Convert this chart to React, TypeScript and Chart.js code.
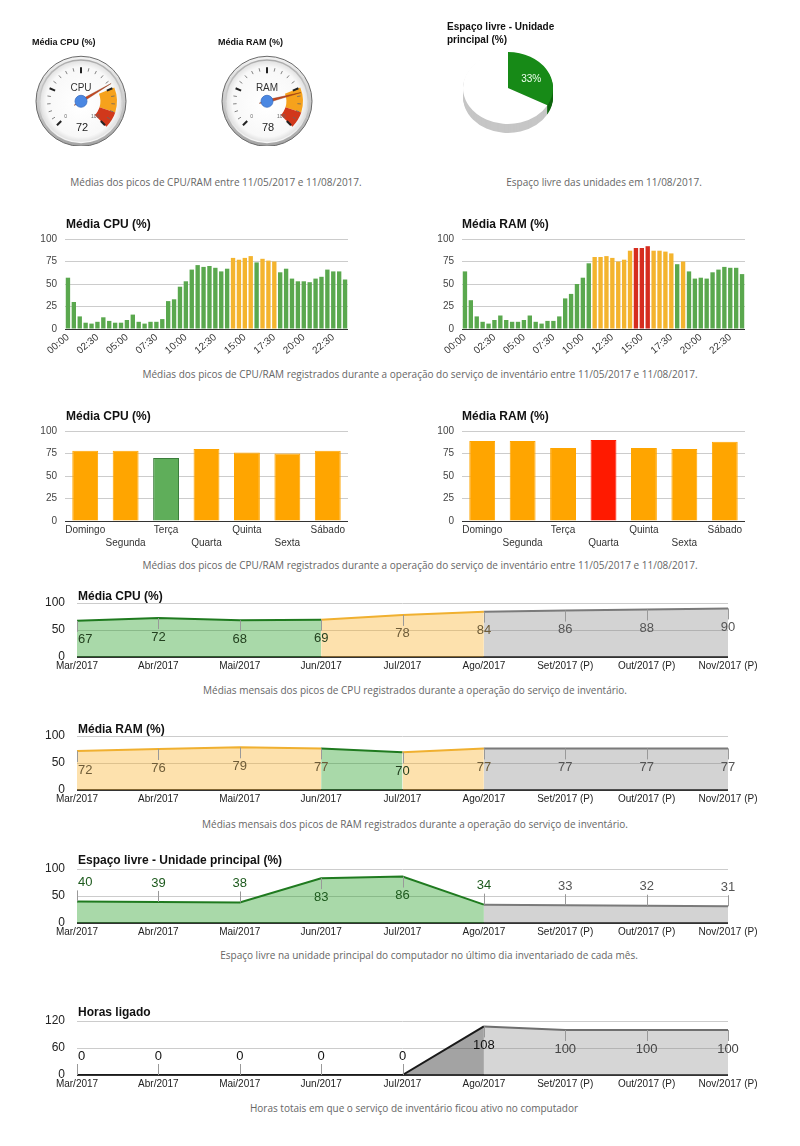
import React, { useEffect, useRef } from 'react';
import { Chart, registerables } from 'chart.js';

Chart.register(...registerables);

const FONT = '"Liberation Sans", Arial, Helvetica, sans-serif';
const CAPTION_FONT = '"Open Sans", "Segoe UI", sans-serif';
Chart.defaults.font.family = FONT;

// ---------------- data ----------------
const gaugeLabels = ['CPU', 'RAM'];
const gaugeValues = [72, 78];
const gaugeBandEdges = [0, 75, 90, 100];

const diskSliceLabels = ['Livre', 'Ocupado'];
const diskSlices = [33, 67];

const halfHourLabels = [
  '00:00', '00:30', '01:00', '01:30', '02:00', '02:30', '03:00', '03:30', '04:00', '04:30',
  '05:00', '05:30', '06:00', '06:30', '07:00', '07:30', '08:00', '08:30', '09:00', '09:30',
  '10:00', '10:30', '11:00', '11:30', '12:00', '12:30', '13:00', '13:30', '14:00', '14:30',
  '15:00', '15:30', '16:00', '16:30', '17:00', '17:30', '18:00', '18:30', '19:00', '19:30',
  '20:00', '20:30', '21:00', '21:30', '22:00', '22:30', '23:00', '23:30',
];
const cpuHalfHour = [
  57, 30, 14, 7, 6, 8, 13, 9, 7, 7,
  10, 16, 8, 6, 8, 8, 11, 31, 33, 47,
  53, 66, 71, 69, 70, 68, 64, 67, 79, 77,
  79, 81, 74, 78, 76, 75, 63, 67, 56, 53,
  53, 52, 56, 58, 66, 64, 64, 55,
];
const ramHalfHour = [
  64, 32, 14, 8, 6, 10, 15, 10, 8, 8,
  10, 15, 8, 6, 9, 9, 14, 34, 39, 50,
  57, 73, 80, 80, 81, 79, 75, 77, 87, 90,
  90, 92, 87, 87, 86, 84, 72, 75, 64, 56,
  57, 56, 63, 66, 69, 68, 68, 61,
];

const weekdays = ['Domingo', 'Segunda', 'Terça', 'Quarta', 'Quinta', 'Sexta', 'Sábado'];
const cpuWeekday = [78, 78, 70, 80, 76, 75, 78];
const ramWeekday = [89, 89, 81, 90, 81, 80, 88];

const months = [
  'Mar/2017', 'Abr/2017', 'Mai/2017', 'Jun/2017', 'Jul/2017', 'Ago/2017',
  'Set/2017 (P)', 'Out/2017 (P)', 'Nov/2017 (P)',
];
const lastRealMonth = 5;
const cpuMonthly = [67, 72, 68, 69, 78, 84, 86, 88, 90];
const ramMonthly = [72, 76, 79, 77, 70, 77, 77, 77, 77];
const diskMonthly = [40, 39, 38, 83, 86, 34, 33, 32, 31];
const hoursMonthly = [0, 0, 0, 0, 0, 108, 100, 100, 100];

const warnLevel = 75;
const critLevel = 90;

// ---------------- styles ----------------
type SegStyle = { line: string; fill: string; text: string };
const S_GREEN: SegStyle = { line: '#1f7a1f', fill: 'rgba(40,160,40,0.40)', text: '#23401f' };
const S_DISK: SegStyle = { line: '#1f7a1f', fill: 'rgba(40,160,40,0.40)', text: '#1d5a1d' };
const S_ORANGE: SegStyle = { line: '#f0b030', fill: 'rgba(250,180,50,0.40)', text: '#6e5c38' };
const S_GRAY: SegStyle = { line: '#7a7a7a', fill: 'rgba(130,130,130,0.35)', text: '#555555' };
const S_BLACK: SegStyle = { line: '#1a1a1a', fill: 'rgba(50,50,50,0.45)', text: '#111111' };
const S_HGRAY: SegStyle = { line: '#6f6f6f', fill: 'rgba(130,130,130,0.33)', text: '#444444' };

const halfColor = (v: number) => (v >= critLevel ? '#d62d1f' : v >= warnLevel ? '#f4b42e' : '#5aa84e');
const weekColor = (v: number) => (v >= critLevel ? '#ff1a00' : v >= warnLevel ? '#ffa500' : '#5fae5a');
const weekBorder = (v: number) => (v >= critLevel ? '#ff1a00' : v >= warnLevel ? '#ffa500' : '#3b7d3b');

// ---------------- helpers ----------------
function ChartBox({ x, y, w, h, config }: { x: number; y: number; w: number; h: number; config: () => any }) {
  const ref = useRef<HTMLCanvasElement | null>(null);
  useEffect(() => {
    if (!ref.current) return;
    const chart = new Chart(ref.current, config());
    return () => chart.destroy();
  }, []);
  return (
    <canvas
      ref={ref}
      width={w}
      height={h}
      style={{ position: 'absolute', left: x, top: y, width: w, height: h }}
    />
  );
}

function Txt({
  x, y, size, bold, color, font, center, children,
}: {
  x: number; y: number; size: number; bold?: boolean; color: string; font: string; center?: boolean; children: React.ReactNode;
}) {
  const lh = Math.round(size * 1.25);
  const style: React.CSSProperties = {
    position: 'absolute',
    left: x,
    top: y - lh / 2,
    fontSize: size,
    lineHeight: `${lh}px`,
    fontWeight: bold ? 'bold' : 'normal',
    color,
    fontFamily: font,
    whiteSpace: 'nowrap',
  };
  if (center) style.transform = 'translateX(-50%)';
  return <div style={style}>{children}</div>;
}

// ---------------- gauge ----------------
function gaugeConfig(idx: number) {
  const value = gaugeValues[idx];
  const label = gaugeLabels[idx];
  const max = gaugeBandEdges[gaugeBandEdges.length - 1];
  const bandData = gaugeBandEdges.slice(1).map((e, j) => e - gaugeBandEdges[j]);
  const plugin = {
    id: 'gaugeFace',
    beforeDatasetsDraw(chart: any) {
      const el = chart.getDatasetMeta(0).data[0];
      const cx = el.x, cy = el.y;
      const ctx = chart.ctx as CanvasRenderingContext2D;
      ctx.save();
      let g = ctx.createLinearGradient(cx, cy - 45, cx, cy + 45);
      g.addColorStop(0, '#f2f2f2');
      g.addColorStop(1, '#a4a4a4');
      ctx.beginPath();
      ctx.arc(cx, cy, 45, 0, Math.PI * 2);
      ctx.fillStyle = g;
      ctx.fill();
      ctx.strokeStyle = '#6a6a6a';
      ctx.lineWidth = 1;
      ctx.stroke();
      g = ctx.createLinearGradient(cx, cy - 42, cx, cy + 42);
      g.addColorStop(0, '#aaaaaa');
      g.addColorStop(1, '#f7f7f7');
      ctx.beginPath();
      ctx.arc(cx, cy, 42, 0, Math.PI * 2);
      ctx.fillStyle = g;
      ctx.fill();
      const rg = ctx.createRadialGradient(cx, cy + 4, 4, cx, cy, 40.5);
      rg.addColorStop(0, '#ffffff');
      rg.addColorStop(0.85, '#f8f8f8');
      rg.addColorStop(1, '#e2e2e2');
      ctx.beginPath();
      ctx.arc(cx, cy, 40.5, 0, Math.PI * 2);
      ctx.fillStyle = rg;
      ctx.fill();
      ctx.restore();
    },
    afterDatasetsDraw(chart: any) {
      const arcs = chart.getDatasetMeta(0).data;
      const start = arcs[0].startAngle;
      const end = arcs[arcs.length - 1].endAngle;
      const cx = arcs[0].x, cy = arcs[0].y;
      const ctx = chart.ctx as CanvasRenderingContext2D;
      const ang = (v: number) => start + ((end - start) * v) / max;
      ctx.save();
      for (let i = 0; i <= 20; i++) {
        const a = ang((max * i) / 20);
        const major = i % 5 === 0;
        const r0 = major ? 28 : 30.5;
        const r1 = 34;
        ctx.beginPath();
        ctx.moveTo(cx + r0 * Math.cos(a), cy + r0 * Math.sin(a));
        ctx.lineTo(cx + r1 * Math.cos(a), cy + r1 * Math.sin(a));
        ctx.strokeStyle = major ? '#222' : '#666';
        ctx.lineWidth = major ? 2 : 0.8;
        ctx.stroke();
      }
      ctx.fillStyle = '#666';
      ctx.font = `5px ${FONT}`;
      ctx.textAlign = 'center';
      ctx.textBaseline = 'middle';
      const a0 = ang(0), a1 = ang(max);
      ctx.fillText('0', cx + 23 * Math.cos(a0) + 1, cy + 23 * Math.sin(a0) - 1);
      ctx.fillText(String(max), cx + 23 * Math.cos(a1) - 2, cy + 23 * Math.sin(a1) - 1);
      ctx.fillStyle = '#333';
      ctx.font = `10px ${FONT}`;
      ctx.fillText(label, cx, cy - 13);
      ctx.font = `11px ${FONT}`;
      ctx.fillStyle = '#222';
      ctx.fillText(String(value), cx + 1, cy + 27);
      const a = ang(value);
      const px = -Math.sin(a), py = Math.cos(a);
      const tipR = 35, tailR = 8, half = 1.5;
      ctx.beginPath();
      ctx.moveTo(cx + tipR * Math.cos(a), cy + tipR * Math.sin(a));
      ctx.lineTo(cx + half * px, cy + half * py);
      ctx.lineTo(cx - tailR * Math.cos(a), cy - tailR * Math.sin(a));
      ctx.lineTo(cx - half * px, cy - half * py);
      ctx.closePath();
      ctx.fillStyle = '#c8471f';
      ctx.fill();
      ctx.strokeStyle = 'rgba(130,50,20,0.7)';
      ctx.lineWidth = 0.6;
      ctx.stroke();
      ctx.beginPath();
      ctx.arc(cx, cy, 6, 0, Math.PI * 2);
      ctx.fillStyle = '#4a87e2';
      ctx.fill();
      ctx.strokeStyle = '#3b6fc2';
      ctx.lineWidth = 0.8;
      ctx.stroke();
      ctx.restore();
    },
  };
  return {
    type: 'doughnut',
    data: {
      labels: ['ok', 'alerta', 'crítico'],
      datasets: [{
        data: bandData,
        backgroundColor: ['rgba(0,0,0,0)', '#f6a21c', '#d1381b'],
        borderWidth: 0,
      }],
    },
    options: {
      responsive: false,
      animation: false,
      events: [],
      rotation: -135,
      circumference: 270,
      radius: 36,
      cutout: 27,
      layout: { padding: 0 },
      plugins: { legend: { display: false }, tooltip: { enabled: false } },
    },
    plugins: [plugin],
  };
}

// ---------------- 3D pie ----------------
function pieConfig() {
  const k = 0.8;
  const depth = 9;
  const sideColors = ['#0e650e', '#c6c6c6'];
  const plugin = {
    id: 'pie3d',
    beforeDatasetsDraw(chart: any) {
      const arcs = chart.getDatasetMeta(0).data;
      const ctx = chart.ctx as CanvasRenderingContext2D;
      const cx = arcs[0].x, cy = arcs[0].y, R = arcs[0].outerRadius;
      for (let d = depth; d >= 1; d--) {
        arcs.forEach((a: any, i: number) => {
          ctx.save();
          ctx.translate(cx, cy + d);
          ctx.scale(1, k);
          ctx.beginPath();
          ctx.moveTo(0, 0);
          ctx.arc(0, 0, R, a.startAngle, a.endAngle);
          ctx.closePath();
          ctx.fillStyle = sideColors[i];
          ctx.fill();
          ctx.restore();
        });
      }
      ctx.save();
      ctx.translate(cx, cy);
      ctx.scale(1, k);
      ctx.translate(-cx, -cy);
    },
    afterDatasetsDraw(chart: any) {
      const ctx = chart.ctx as CanvasRenderingContext2D;
      ctx.restore();
      const a = chart.getDatasetMeta(0).data[0];
      const mid = (a.startAngle + a.endAngle) / 2;
      const r = a.outerRadius * 0.6;
      ctx.save();
      ctx.fillStyle = '#f0fff0';
      ctx.font = `10px ${FONT}`;
      ctx.textAlign = 'center';
      ctx.textBaseline = 'middle';
      ctx.fillText(`${diskSlices[0]}%`, a.x + r * Math.cos(mid), a.y + r * k * Math.sin(mid) + 2);
      ctx.restore();
    },
  };
  return {
    type: 'pie',
    data: {
      labels: diskSliceLabels,
      datasets: [{ data: diskSlices, backgroundColor: ['#178a17', '#ffffff'], borderWidth: 0 }],
    },
    options: {
      responsive: false,
      animation: false,
      events: [],
      radius: 45,
      layout: { padding: 0 },
      plugins: { legend: { display: false }, tooltip: { enabled: false } },
    },
    plugins: [plugin],
  };
}

// ---------------- bars ----------------
function barConfig(
  labels: string[],
  values: number[],
  p: {
    colorFn: (v: number) => string;
    borderFn?: (v: number) => string;
    barPct: number;
    rotation: number;
    tickCb: (label: string, i: number) => any;
    xH: number;
    xPad: number;
  },
) {
  return {
    type: 'bar',
    data: {
      labels,
      datasets: [{
        data: values,
        backgroundColor: values.map(p.colorFn),
        borderColor: values.map(p.borderFn ?? p.colorFn),
        borderWidth: p.borderFn ? 1 : 0,
        barPercentage: p.barPct,
        categoryPercentage: 1,
      }],
    },
    options: {
      responsive: false,
      animation: false,
      events: [],
      layout: { padding: { top: 10, right: 12, left: 0, bottom: 0 } },
      plugins: { legend: { display: false }, tooltip: { enabled: false } },
      scales: {
        x: {
          grid: { display: false, drawTicks: false },
          border: { display: false },
          ticks: {
            autoSkip: false,
            minRotation: p.rotation,
            maxRotation: p.rotation,
            padding: p.xPad,
            color: '#333',
            font: { size: 10, lineHeight: 1.3 },
            callback: (_v: any, i: number) => p.tickCb(labels[i], i),
          },
          afterFit: (s: any) => { s.height = p.xH; },
        },
        y: {
          min: 0,
          max: 100,
          ticks: { stepSize: 25, padding: 8, color: '#444', font: { size: 10 } },
          grid: {
            drawTicks: false,
            color: (c: any) => (c.tick && c.tick.value === 0 ? '#333333' : '#cccccc'),
          },
          border: { display: false },
          afterFit: (s: any) => { s.width = 40; s.paddingTop = 0; s.paddingBottom = 0; },
        },
      },
    },
  };
}

// ---------------- monthly areas ----------------
function lineConfig(values: number[], max: number, step: number, styleAt: (i: number) => SegStyle) {
  const annot = {
    id: 'annot',
    afterDatasetsDraw(chart: any) {
      const pts = chart.getDatasetMeta(0).data;
      const ctx = chart.ctx as CanvasRenderingContext2D;
      const area = chart.chartArea;
      ctx.save();
      ctx.font = `13px ${FONT}`;
      ctx.textAlign = 'center';
      ctx.textBaseline = 'middle';
      pts.forEach((pt: any, i: number) => {
        const v = values[i];
        const dir = v < max / 2 ? -1 : 1;
        const sx = Math.round(pt.x) + 0.5;
        ctx.strokeStyle = '#999';
        ctx.lineWidth = 1;
        ctx.beginPath();
        ctx.moveTo(sx, pt.y);
        ctx.lineTo(sx, pt.y + dir * 11);
        ctx.stroke();
        const txt = String(v);
        const tw = ctx.measureText(txt).width;
        const tx = Math.max(pt.x, area.left + tw / 2 + 1);
        ctx.fillStyle = styleAt(Math.max(i, 1)).text;
        ctx.fillText(txt, tx, pt.y + dir * 19);
      });
      ctx.restore();
    },
  };
  return {
    type: 'line',
    data: {
      labels: months,
      datasets: [{
        data: values,
        fill: 'origin',
        borderWidth: 2,
        pointRadius: 0,
        tension: 0,
        borderColor: styleAt(1).line,
        backgroundColor: styleAt(1).fill,
        segment: {
          borderColor: (c: any) => styleAt(c.p1DataIndex).line,
          backgroundColor: (c: any) => styleAt(c.p1DataIndex).fill,
        },
      }],
    },
    options: {
      responsive: false,
      animation: false,
      events: [],
      layout: { padding: { top: 10, right: 62, left: 0, bottom: 0 } },
      plugins: { legend: { display: false }, tooltip: { enabled: false } },
      scales: {
        x: {
          grid: { display: false, drawTicks: false },
          border: { display: false },
          ticks: { autoSkip: false, maxRotation: 0, padding: 3, color: '#222', font: { size: 10 } },
          afterFit: (s: any) => { s.height = 24; },
        },
        y: {
          min: 0,
          max,
          ticks: {
            stepSize: step,
            padding: 12,
            color: '#222',
            font: { size: 12 },
            callback: (v: any) => (Number(v) % (step * 2) === 0 ? String(v) : ''),
          },
          grid: {
            drawTicks: false,
            color: (c: any) => (c.tick && c.tick.value === 0 ? '#333333' : '#cccccc'),
            lineWidth: (c: any) => (c.tick && c.tick.value === 0 ? 2 : 1),
          },
          border: { display: false },
          afterFit: (s: any) => { s.width = 57; s.paddingTop = 0; s.paddingBottom = 0; },
        },
      },
    },
    plugins: [annot],
  };
}

const usageStyle = (values: number[]) => (i: number): SegStyle =>
  i > lastRealMonth ? S_GRAY : values[i] >= warnLevel ? S_ORANGE : S_GREEN;
const diskStyle = (i: number): SegStyle => (i > lastRealMonth ? S_GRAY : S_DISK);
const hoursStyle = (i: number): SegStyle => (i > lastRealMonth ? S_HGRAY : S_BLACK);

// ---------------- app ----------------
export default function App() {
  const title = (x: number, y: number, text: React.ReactNode, size = 12) => (
    <Txt x={x} y={y} size={size} bold color="#111" font={FONT}>{text}</Txt>
  );
  const caption = (cx: number, y: number, text: string) => (
    <Txt x={cx} y={y} size={10} color="#666" font={CAPTION_FONT} center>{text}</Txt>
  );
  const halfTick = (l: string, i: number) => (i % 5 === 0 ? l : '');
  const weekTick = (l: string, i: number) => (i % 2 === 1 ? ['', l] : l);

  return (
    <div style={{ position: 'absolute', left: 0, top: 0, width: 800, height: 1146, background: '#fff', overflow: 'hidden' }}>
      {/* gauges */}
      <ChartBox x={31} y={46} w={100} h={100} config={() => gaugeConfig(0)} />
      <ChartBox x={217} y={46} w={100} h={100} config={() => gaugeConfig(1)} />
      {title(32, 42, 'Média CPU (%)', 9)}
      {title(218, 42, 'Média RAM (%)', 9)}
      {/* pie */}
      <ChartBox x={458} y={38} w={100} h={100} config={pieConfig} />
      <div style={{ position: 'absolute', left: 447, top: 20, fontFamily: FONT, fontSize: 10, lineHeight: '13px', fontWeight: 'bold', color: '#111' }}>
        Espaço livre - Unidade<br />principal (%)
      </div>
      {caption(216, 182, 'Médias dos picos de CPU/RAM entre 11/05/2017 e 11/08/2017.')}
      {caption(604, 182, 'Espaço livre das unidades em 11/08/2017.')}

      {/* half-hour bars */}
      <ChartBox x={25} y={229} w={335} h={135} config={() => barConfig(halfHourLabels, cpuHalfHour, { colorFn: halfColor, barPct: 0.74, rotation: 40, tickCb: halfTick, xH: 35, xPad: 2 })} />
      <ChartBox x={422} y={229} w={335} h={135} config={() => barConfig(halfHourLabels, ramHalfHour, { colorFn: halfColor, barPct: 0.74, rotation: 40, tickCb: halfTick, xH: 35, xPad: 2 })} />
      {title(66, 224, 'Média CPU (%)')}
      {title(462, 224, 'Média RAM (%)')}
      {caption(420, 374, 'Médias dos picos de CPU/RAM registrados durante a operação do serviço de inventário entre 11/05/2017 e 11/08/2017.')}

      {/* weekday bars */}
      <ChartBox x={25} y={421} w={335} h={135} config={() => barConfig(weekdays, cpuWeekday, { colorFn: weekColor, borderFn: weekBorder, barPct: 0.64, rotation: 0, tickCb: weekTick, xH: 35, xPad: 3 })} />
      <ChartBox x={422} y={421} w={335} h={135} config={() => barConfig(weekdays, ramWeekday, { colorFn: weekColor, borderFn: weekBorder, barPct: 0.64, rotation: 0, tickCb: weekTick, xH: 35, xPad: 3 })} />
      {title(66, 416, 'Média CPU (%)')}
      {title(462, 416, 'Média RAM (%)')}
      {caption(420, 565, 'Médias dos picos de CPU/RAM registrados durante a operação do serviço de inventário entre 11/05/2017 e 11/08/2017.')}

      {/* monthly */}
      <ChartBox x={20} y={593} w={770} h={88} config={() => lineConfig(cpuMonthly, 100, 25, usageStyle(cpuMonthly))} />
      {title(78, 596, 'Média CPU (%)')}
      {caption(415, 690, 'Médias mensais dos picos de CPU registrados durante a operação do serviço de inventário.')}

      <ChartBox x={20} y={726} w={770} h={88} config={() => lineConfig(ramMonthly, 100, 25, usageStyle(ramMonthly))} />
      {title(78, 729, 'Média RAM (%)')}
      {caption(415, 824, 'Médias mensais dos picos de RAM registrados durante a operação do serviço de inventário.')}

      <ChartBox x={20} y={859} w={770} h={88} config={() => lineConfig(diskMonthly, 100, 25, diskStyle)} />
      {title(78, 860, 'Espaço livre - Unidade principal (%)')}
      {caption(429, 955, 'Espaço livre na unidade principal do computador no último dia inventariado de cada mês.')}

      <ChartBox x={20} y={1011} w={770} h={88} config={() => lineConfig(hoursMonthly, 120, 30, hoursStyle)} />
      {title(78, 1012, 'Horas ligado')}
      {caption(414, 1108, 'Horas totais em que o serviço de inventário ficou ativo no computador')}
    </div>
  );
}
